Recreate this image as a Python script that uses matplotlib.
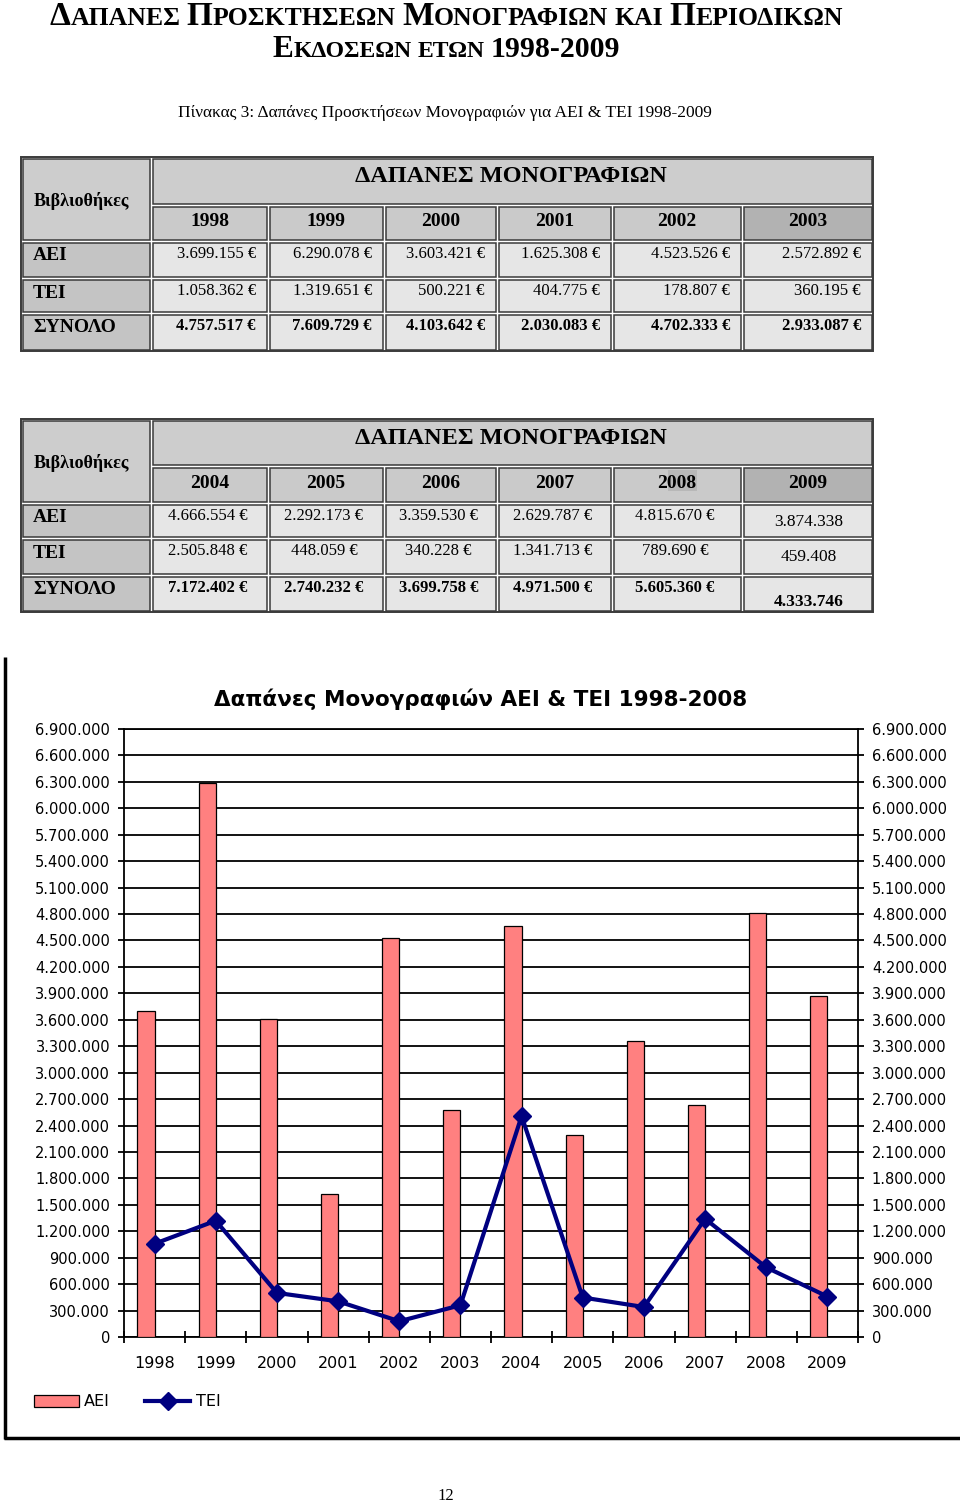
import matplotlib
matplotlib.use('Agg')
import matplotlib.pyplot as plt
from matplotlib.patches import Rectangle
from matplotlib.ticker import FuncFormatter
import numpy as np

# --- data ---
years = ['1998', '1999', '2000', '2001', '2002', '2003',
         '2004', '2005', '2006', '2007', '2008', '2009']
aei = [3699155, 6290078, 3603421, 1625308, 4523526, 2572892,
       4666554, 2292173, 3359530, 2629787, 4815670, 3874338]
tei = [1058362, 1319651, 500221, 404775, 178807, 360195,
       2505848, 448059, 340228, 1341713, 789690, 459408]
total = [4757517, 7609729, 4103642, 2030083, 4702333, 2933087,
         7172402, 2740232, 3699758, 4971500, 5605360, 4333746]
row_labels = ['ΑΕΙ', 'ΤΕΙ', 'ΣΥΝΟΛΟ']

SERIF = 'Liberation Serif'
SANS = 'DejaVu Sans'

fig = plt.figure(figsize=(9.6, 15.03), dpi=100)
page = fig.add_axes([0, 0, 1, 1])
page.set_xlim(0, 960)
page.set_ylim(1503, 0)
page.axis('off')
renderer = fig.canvas.get_renderer()


def fmt(v, euro=True):
    s = f"{v:,}".replace(',', '.')
    return s + ' €' if euro else s


# --- small caps heading (words marked with * keep a large initial) ---
def smallcaps(text, y, cx, big=24, small=18.5, digits=21.5):
    objs = []
    gap = 0.25 * small * 100 / 72
    for word in text.split():
        if word.startswith('*'):
            word = word[1:]
            parts = [(word[0], big), (word[1:], small)]
        elif not word[0].isalpha():
            parts = [(word, digits)]
        else:
            parts = [(word, small)]
        for s, fs in parts:
            if not s:
                continue
            t = page.text(0, y, s, fontsize=fs, fontweight='bold', family=SERIF,
                          va='baseline', ha='left')
            objs.append(t)
        objs.append(None)
    objs = objs[:-1]
    widths = [gap if t is None else t.get_window_extent(renderer).width for t in objs]
    x = cx - sum(widths) / 2
    for t, w in zip(objs, widths):
        if t is not None:
            t.set_x(x)
        x += w


smallcaps('*ΔΑΠΑΝΕΣ *ΠΡΟΣΚΤΗΣΕΩΝ *ΜΟΝΟΓΡΑΦΙΩΝ ΚΑΙ *ΠΕΡΙΟΔΙΚΩΝ', 25, 446)
smallcaps('*ΕΚΔΟΣΕΩΝ ΕΤΩΝ 1998-2009', 57, 446, big=22.5, small=17)

page.text(445, 113, 'Πίνακας 3: Δαπάνες Προσκτήσεων Μονογραφιών για ΑΕΙ & ΤΕΙ 1998-2009',
          family=SERIF, fontsize=12.5, ha='center', va='center')

# --- tables ---
col_edges = [21, 151, 268, 384, 497, 612, 742, 873]
EDGE = '#3a3a3a'


def cell(x0, y0, x1, y1, fc):
    page.add_patch(Rectangle((x0 + 1.5, y0 + 1.5), x1 - x0 - 3, y1 - y0 - 3,
                             facecolor=fc, edgecolor=EDGE, lw=1.1))


def draw_table(rows_y, yrs, vals, second):
    top, hdr, ybot, r1, r2, r3 = rows_y
    page.add_patch(Rectangle((col_edges[0], top), col_edges[-1] - col_edges[0], r3 - top,
                             fill=False, edgecolor=EDGE, lw=1.4))
    cell(col_edges[0], top, col_edges[1], ybot, '#cdcdcd')
    page.text(34, (top + ybot) / 2 + 2, 'Βιβλιοθήκες', family=SERIF, fontsize=13,
              fontweight='bold', ha='left', va='center')
    cell(col_edges[1], top, col_edges[-1], hdr, '#cdcdcd')
    page.text(511, top + 20, 'ΔΑΠΑΝΕΣ ΜΟΝΟΓΡΑΦΙΩΝ', family=SERIF, fontsize=17.5,
              fontweight='bold', ha='center', va='center')
    for j, yr in enumerate(yrs):
        x0, x1 = col_edges[j + 1], col_edges[j + 2]
        cell(x0, hdr, x1, ybot, '#b2b2b2' if j == 5 else '#cacaca')
        if second and yr == '2008':
            page.add_patch(Rectangle((668, hdr + 4), 29, 21, facecolor='#b8b8b8', lw=0))
        page.text((x0 + x1) / 2, (hdr + ybot) / 2 - 1, yr, family=SERIF, fontsize=14,
                  fontweight='bold', ha='center', va='center')
    bounds = [ybot, r1, r2, r3]
    for i, lab in enumerate(row_labels):
        y0, y1 = bounds[i], bounds[i + 1]
        cell(col_edges[0], y0, col_edges[1], y1, '#c4c4c4')
        ty = y0 + 13
        page.text(33, ty + 2, lab, family=SERIF, fontsize=14, fontweight='bold',
                  ha='left', va='center')
        for j in range(6):
            x0, x1 = col_edges[j + 1], col_edges[j + 2]
            cell(x0, y0, x1, y1, '#e6e6e6')
            v = vals[i][j]
            w = 'bold' if i == 2 else 'normal'
            if second and j == 5:
                yy = ty + (14 if i == 2 else 6)
                page.text((x0 + x1) / 2 + 1, yy, fmt(v, False), family=SERIF,
                          fontsize=12.5, fontweight=w, ha='center', va='center')
            elif second:
                page.text((x0 + x1) / 2 - 2, ty, fmt(v), family=SERIF, fontsize=12,
                          fontweight=w, ha='center', va='center')
            else:
                page.text(x1 - 12, ty, fmt(v), family=SERIF, fontsize=12,
                          fontweight=w, ha='right', va='center')


draw_table([157, 205, 241, 278, 313, 351], years[:6],
           [aei[:6], tei[:6], total[:6]], False)
draw_table([419, 466, 503, 538, 575, 612], years[6:],
           [aei[6:], tei[6:], total[6:]], True)

# --- chart frame and title ---
page.plot([5, 5], [657, 1439], color='black', lw=2.5, solid_capstyle='butt')
page.plot([4, 960], [1438, 1438], color='black', lw=2.5, solid_capstyle='butt')
page.text(481, 699, 'Δαπάνες Μονογραφιών ΑΕΙ & ΤΕΙ 1998-2008', family=SANS,
          fontsize=15.5, fontweight='bold', ha='center', va='center')
page.text(446, 1496, '12', family=SERIF, fontsize=12, ha='center', va='center')

# --- chart ---
ax = fig.add_axes([124 / 960, 1 - 1337 / 1503, 734 / 960, 608 / 1503])
x = np.arange(len(years))
bars = ax.bar(x - 0.14, aei, width=0.28, color='#ff8080', edgecolor='black', lw=0.9,
              zorder=3, label='ΑΕΙ')
line, = ax.plot(x, tei, color='#000080', lw=3, marker='D', ms=9, zorder=4, label='ΤΕΙ')
ax.set_xlim(-0.5, len(years) - 0.5)
ax.set_ylim(0, 6900000)
ax.set_yticks(np.arange(0, 6900001, 300000))
ax.yaxis.set_major_formatter(FuncFormatter(lambda v, p: f"{int(round(v)):,}".replace(',', '.')))
ax.yaxis.grid(True, color='black', lw=1.3)
ax.set_axisbelow(True)
ax.set_xticks(x)
ax.set_xticklabels(years)
ax.set_xticks(np.arange(-0.5, len(years), 1), minor=True)
ax.tick_params(axis='x', which='major', length=0, pad=14, labelsize=11.5)
ax.tick_params(axis='x', which='minor', direction='inout', length=9, width=1.3)
ax.tick_params(axis='y', left=True, right=True, labelleft=True, labelright=True,
               direction='out', length=4, width=1.3, labelsize=10.5, pad=6)
for s in ax.spines.values():
    s.set_color('black')
    s.set_linewidth(1.3)

fig.legend(handles=[bars, line], loc='center left',
           bbox_to_anchor=(34 / 960, 1 - 1402 / 1503), ncol=2,
           frameon=False, fontsize=11.5, handlelength=2.8, handleheight=0.75,
           handletextpad=0.35, columnspacing=2.2, borderpad=0, borderaxespad=0)

fig.savefig('out.png', dpi=100)
